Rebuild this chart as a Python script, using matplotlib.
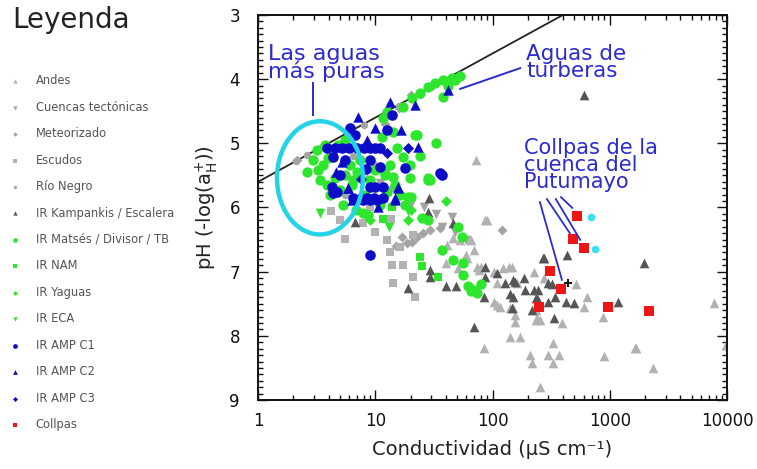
import matplotlib
matplotlib.use("Agg")
import matplotlib.pyplot as plt
from matplotlib.ticker import MultipleLocator, FuncFormatter, LogLocator
from matplotlib.patches import Ellipse
import numpy as np

plt.rcParams['font.family'] = ['DejaVu Sans']

# ---------------- data (conductivity µS/cm, pH) ----------------
andes_c = [72, 90, 87, 65, 69, 46, 40, 51, 61, 74, 80, 102, 124, 148, 110, 163, 110, 150, 157, 233,
           256, 142, 173, 84, 210, 218, 295, 327, 327, 367, 256, 890, 1660, 645, 870, 395, 157, 233,
           240, 142, 102, 117, 224, 273, 137, 7750, 9800, 2360, 1630, 53, 59, 76, 600, 520, 41]
andes_ph = [5.26, 6.19, 6.19, 6.5, 6.66, 6.47, 6.86, 6.94, 6.79, 6.93, 6.93, 7.0, 6.94, 6.93, 7.17, 7.17,
            7.52, 7.56, 7.67, 7.6, 7.75, 8.02, 8.02, 8.19, 8.3, 8.42, 8.3, 8.11, 8.42, 8.3, 8.8, 8.31,
            8.19, 7.39, 7.7, 7.8, 7.78, 7.75, 7.72, 7.57, 7.47, 7.55, 7.0, 7.1, 6.93, 7.49, 8.15, 8.5,
            8.19, 6.5, 6.74, 6.97, 7.55, 7.2, 6.58]

cuencas_c = [37, 48, 59, 26, 20, 11, 33, 45]
cuencas_ph = [6.3, 6.38, 6.5, 6.0, 5.95, 5.62, 6.1, 6.15]

meteor_c = [17, 18.8, 20.7, 22.8, 25.7, 29.5, 36, 121, 15, 2.15, 20, 16, 12, 8.5]
meteor_ph = [6.46, 6.55, 6.54, 6.46, 6.4, 6.35, 6.32, 6.35, 6.6, 5.26, 4.25, 4.45, 4.7, 5.55]

escudos_c = [5.0, 7.9, 5.5, 10, 12.6, 13.4, 14, 17.4, 16.3, 21, 14.3, 22, 13.5, 21, 4.2, 9.0]
escudos_ph = [6.19, 6.24, 6.49, 6.38, 6.5, 6.69, 6.89, 6.89, 6.61, 7.08, 7.17, 7.39, 6.18, 6.43, 6.05, 6.0]

rionegro_c = [2.1, 2.6, 3.5, 8, 16, 24, 30, 5.5, 9.5, 14, 6.5]
rionegro_ph = [5.27, 5.18, 5.05, 4.72, 4.42, 4.25, 4.12, 5.8, 5.3, 5.7, 5.2]

kamp_c = [29, 28, 6.7, 46, 29.5, 29.5, 19, 40, 49, 87, 84, 69, 87, 110, 129, 150, 184, 150, 140, 224,
          267, 242, 157, 191, 242, 233, 148, 333, 218, 295, 344, 420, 495, 273, 435, 295, 320, 1170,
          600, 1950]
kamp_ph = [5.85, 6.07, 6.22, 6.24, 6.97, 7.08, 7.25, 7.22, 7.22, 7.08, 7.39, 7.86, 6.92, 7.02, 7.17,
           7.13, 7.1, 7.39, 7.35, 7.28, 6.79, 7.44, 7.16, 7.28, 7.28, 7.41, 7.56, 7.72, 7.6, 7.47, 7.39,
           7.47, 7.49, 6.79, 6.74, 7.17, 7.2, 7.47, 4.25, 6.86]

matses_c = [53, 45, 38, 32.5, 28, 24, 38, 20.7, 17.4, 12.7, 11.7, 14.3, 22.8, 11.4, 29.5, 19.9, 17.4, 48, 42,
            2.95, 3.25, 3.6, 3.97, 4.4, 4.8, 5.5, 3.4, 3.9, 4.55, 5.0, 5.5, 6.1, 6.5, 7.0, 7.4, 4.1, 5.3,
            6.8, 8.2, 9.1, 10, 12, 13.4, 14.8, 16.3, 18, 8.7, 11, 3.2, 3.7, 2.6,
            15.4, 22, 12.2, 14.3, 19.9, 28, 19, 12.5, 24, 33,
            20, 25, 28, 51, 55, 37, 46, 56, 56, 69, 74, 28, 6.3, 7.9, 65, 80, 62]
matses_ph = [3.95, 3.98, 4.01, 4.06, 4.12, 4.21, 4.28, 4.29, 4.43, 4.51, 4.6, 4.82, 4.87, 4.9, 5.57, 5.34,
             5.21, 4.02, 4.1,
             5.26, 5.41, 5.34, 5.23, 5.1, 5.02, 4.95, 5.57, 5.65, 5.54, 5.73, 5.49, 5.34, 5.57, 5.45,
             5.26, 5.8, 5.96, 6.04, 5.8, 5.57, 5.41, 5.49, 5.34, 5.65, 5.8, 5.96, 6.12, 5.96, 5.1, 5.02,
             5.45,
             5.07, 4.87, 5.46, 5.52, 5.54, 5.54, 5.83, 5.76, 5.2, 5.0,
             5.83, 6.16, 6.19, 6.3, 6.46, 6.66, 6.82, 6.86, 7.05, 7.28, 7.33, 5.57, 5.65, 6.08, 7.3, 7.2,
             7.22]

nam_c = [11.7, 24, 34.5, 25, 14]
nam_ph = [6.18, 6.77, 7.08, 6.91, 6.0]

yaguas_c = [19, 20, 9, 40]
yaguas_ph = [6.19, 6.04, 6.2, 5.9]

eca_c = [3.4, 19, 13]
eca_ph = [6.08, 6.05, 6.3]

ampc1_c = [14, 6.1, 6.7, 12.6, 3.9, 4.5, 5.2, 6.0, 7.0, 8.0, 9.0, 10, 11, 4.4, 5.5, 9.1, 11, 18, 37, 5.0,
           4.3, 4.7, 6.5, 7.5, 8.5, 9.8, 11.7, 4.4, 9, 10, 11.7, 7.9, 9, 10.4, 9.1, 36, 8.3]
ampc1_ph = [4.56, 4.76, 4.87, 4.79, 5.07, 5.07, 5.07, 5.07, 5.07, 5.07, 5.07, 5.07, 5.07, 5.21, 5.26, 5.26,
            5.37, 5.38, 5.49, 5.49, 5.68, 5.76, 5.85, 5.85, 5.85, 5.85, 5.85, 5.77, 5.68, 5.68, 5.68, 5.88,
            5.88, 5.88, 6.74, 5.46, 5.4]

ampc2_c = [13.4, 22, 42, 7.1, 10, 16.7, 23, 5.2, 5.9, 15.7, 14.8, 5.8, 15.7, 6.3, 10.6, 14.8, 8.5, 4.6]
ampc2_ph = [4.36, 4.4, 4.17, 4.59, 4.76, 4.79, 5.05, 5.29, 5.69, 5.69, 5.85, 5.69, 5.68, 5.88, 5.99, 5.88,
            4.95, 5.45]

ampc3_c = [19, 12.5, 7.5]
ampc3_ph = [5.07, 5.15, 5.55]

collpas_c = [522, 483, 600, 307, 381, 247, 961, 2154]
collpas_ph = [6.13, 6.49, 6.63, 6.99, 7.27, 7.55, 7.55, 7.61]

cyan_c = [690, 748]
cyan_ph = [6.15, 6.64]

plus_c = [437]
plus_ph = [7.17]

# reference line for pure acid water: pH = 5.6 - log10(C)
line_c = [1, 10000]
line_intercept = 5.6

xticks = [1, 10, 100, 1000, 10000]
yticks = [3, 4, 5, 6, 7, 8, 9]

# ---------------- figure ----------------
fig = plt.figure(figsize=(7.57, 4.69), dpi=100)
ax = fig.add_axes([258/757, 1-400/469, 469/757, 385/469])

light = '#b2b2b2'
mid = '#a4a4a4'
dark = '#555555'
green = '#2ee62e'
blue = '#0c0cc8'
red = '#ee1515'

series = [
    ('Andes', andes_c, andes_ph, '^', light, 48),
    ('Cuencas tectónicas', cuencas_c, cuencas_ph, 'v', mid, 48),
    ('Meteorizado', meteor_c, meteor_ph, 'D', mid, 26),
    ('Escudos', escudos_c, escudos_ph, 's', light, 34),
    ('Río Negro', rionegro_c, rionegro_ph, 'o', mid, 28),
    ('IR Kampankis / Escalera', kamp_c, kamp_ph, '^', dark, 48),
    ('IR Matsés / Divisor / TB', matses_c, matses_ph, 'o', green, 55),
    ('IR NAM', nam_c, nam_ph, 's', green, 40),
    ('IR Yaguas', yaguas_c, yaguas_ph, 'D', green, 30),
    ('IR ECA', eca_c, eca_ph, 'v', green, 48),
    ('IR AMP C1', ampc1_c, ampc1_ph, 'o', blue, 58),
    ('IR AMP C2', ampc2_c, ampc2_ph, '^', blue, 56),
    ('IR AMP C3', ampc3_c, ampc3_ph, 'D', blue, 32),
    ('Collpas', collpas_c, collpas_ph, 's', red, 60),
]

lc = np.array(line_c, dtype=float)
ax.plot(lc, line_intercept - np.log10(lc), color='#222222', lw=1.3, zorder=1)

handles = []
for i, (lab, c, p, m, col, s) in enumerate(series):
    h = ax.scatter(c, p, marker=m, s=s, color=col, linewidths=0, label=lab, zorder=2 + i * 0.1)
    handles.append(h)

ax.scatter(cyan_c, cyan_ph, marker='o', s=30, color='#35e0f0', linewidths=0, zorder=4)
ax.scatter(plus_c, plus_ph, marker='+', s=40, color='black', linewidths=1.3, zorder=4)

# cyan ellipse around the purest waters
ax.add_patch(Ellipse((0.132, 0.577), 0.183, 0.294, transform=ax.transAxes,
                     fill=False, edgecolor='#22d4e6', lw=3.2, zorder=5))

ann_col = '#2b2bd0'
ax.text(0.021, 0.925, 'Las aguas\nmás puras', transform=ax.transAxes, ha='left', va='top',
        color=ann_col, fontsize=16, linespacing=0.82, zorder=6)
ax.plot([0.117, 0.117], [0.823, 0.740], transform=ax.transAxes, color=ann_col, lw=1.4, zorder=6)

ax.text(0.572, 0.925, 'Aguas de\nturberas', transform=ax.transAxes, ha='left', va='top',
        color=ann_col, fontsize=15.5, linespacing=0.82, zorder=6)
ax.plot([0.431, 0.559], [0.808, 0.862], transform=ax.transAxes, color=ann_col, lw=1.4, zorder=6)

ax.text(0.567, 0.680, 'Collpas de la\ncuenca del\nPutumayo', transform=ax.transAxes, ha='left', va='top',
        color=ann_col, fontsize=15, linespacing=0.8, zorder=6)
for (x0, y0, x1, y1) in [(0.601, 0.514, 0.648, 0.312), (0.616, 0.522, 0.665, 0.433),
                         (0.635, 0.522, 0.687, 0.416), (0.646, 0.527, 0.670, 0.499)]:
    ax.plot([x0, x1], [y0, y1], transform=ax.transAxes, color=ann_col, lw=1.3, zorder=6)

# axes styling
ax.set_xscale('log')
ax.set_xlim(1, 10000)
ax.set_ylim(9, 3)
ax.set_xticks(xticks)
ax.xaxis.set_major_formatter(FuncFormatter(lambda v, p: f'{v:g}'))
ax.xaxis.set_minor_locator(LogLocator(base=10, subs=np.arange(2, 10)))
ax.xaxis.set_minor_formatter(FuncFormatter(lambda v, p: ''))
ax.set_yticks(yticks)
ax.yaxis.set_minor_locator(MultipleLocator(0.1))
ax.tick_params(which='both', direction='in', top=True, right=True, width=1.0, colors='#111111')
ax.tick_params(which='major', length=7, labelsize=12)
ax.tick_params(which='minor', length=3.5)
ax.tick_params(axis='y', which='major', pad=13)
ax.tick_params(axis='x', which='major', pad=9)
for sp in ax.spines.values():
    sp.set_linewidth(1.4)
    sp.set_color('#111111')

ax.set_xlabel('Conductividad (µS cm⁻¹)', fontsize=14, labelpad=7, color='#222222')
ax.set_ylabel(r'pH (-log(a$_\mathrm{H}^{+}$))', fontsize=14, labelpad=7, color='#222222')

# legend on the left
fig.text(12/757, 1-20/469, 'Leyenda', fontsize=20, color='#222222', va='center', ha='left')
leg = fig.legend(handles=handles, loc='upper left', bbox_to_anchor=(0.0, 1-66/469),
                 frameon=False, fontsize=8.3, markerscale=0.45, labelspacing=1.17,
                 handlelength=1.2, handletextpad=1.2, borderaxespad=0.3, scatterpoints=1)
for t in leg.get_texts():
    t.set_color('#555555')

fig.savefig('out.png', dpi=100)
